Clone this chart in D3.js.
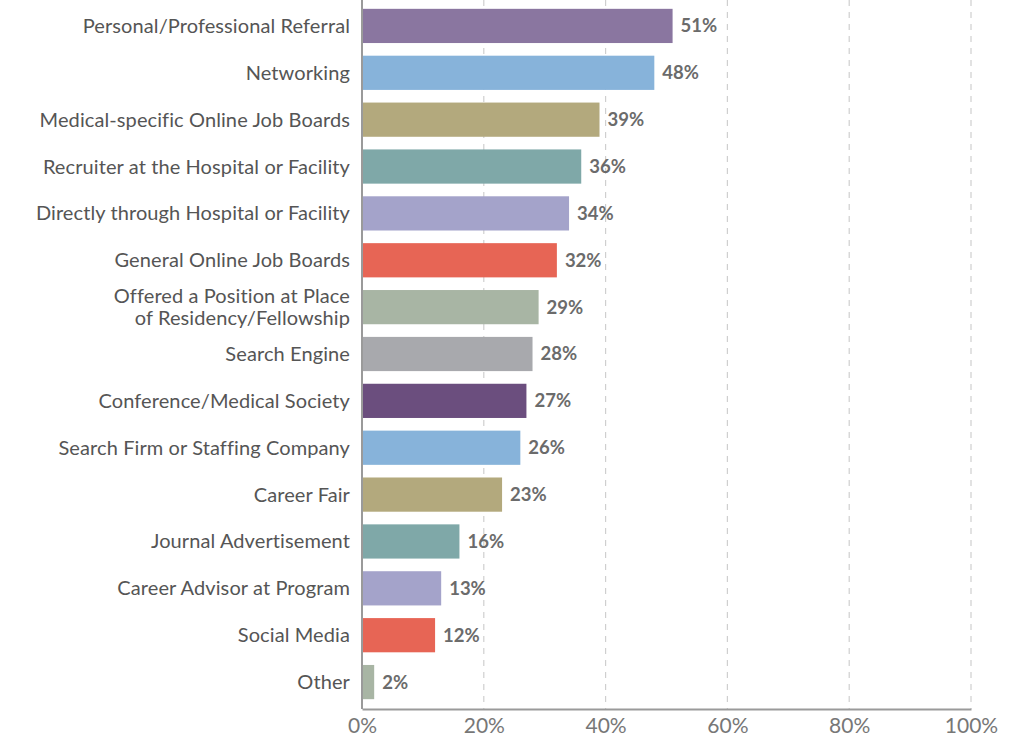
<!DOCTYPE html>
<html><head><meta charset="utf-8">
<script src="https://cdn.jsdelivr.net/npm/d3@7"></script>
<style>body{margin:0;background:#fff}svg{display:block}</style>
</head><body><svg id="c" width="1024" height="744"></svg>
<script>
const categories = [
  ["Personal/Professional Referral"],
  ["Networking"],
  ["Medical-specific Online Job Boards"],
  ["Recruiter at the Hospital or Facility"],
  ["Directly through Hospital or Facility"],
  ["General Online Job Boards"],
  ["Offered a Position at Place", "of Residency/Fellowship"],
  ["Search Engine"],
  ["Conference/Medical Society"],
  ["Search Firm or Staffing Company"],
  ["Career Fair"],
  ["Journal Advertisement"],
  ["Career Advisor at Program"],
  ["Social Media"],
  ["Other"]
];
const values = [51, 48, 39, 36, 34, 32, 29, 28, 27, 26, 23, 16, 13, 12, 2];
const colors = ["#8a76a0","#87b3da","#b3a97d","#7fa8a8","#a4a3ca","#e76555","#a8b5a4","#a8a9ad","#6b4e7e","#87b3da","#b3a97d","#7fa8a8","#a4a3ca","#e76555","#a8b5a4"];
const xTicks = [0, 20, 40, 60, 80, 100];

const svg = d3.select("#c");
const font = "Lato, 'Open Sans', sans-serif";
const x = d3.scaleLinear().domain([0, 100]).range([362, 971]);
const idx = d3.range(values.length);
const y = d3.scaleBand().domain(idx).range([2.5, 705.5]).paddingInner(0.27).paddingOuter(0.135);
const axisY = 709;

// grid
svg.append("g").selectAll("line").data(xTicks.slice(1)).join("line")
  .attr("x1", d => x(d)).attr("x2", d => x(d))
  .attr("y1", 0).attr("y2", axisY)
  .attr("stroke", "#cfcfcf").attr("stroke-width", 1.2).attr("stroke-dasharray", "6,6");

// bars
svg.append("g").selectAll("rect").data(idx).join("rect")
  .attr("x", x(0)).attr("y", i => y(i))
  .attr("width", i => x(values[i]) - x(0)).attr("height", y.bandwidth())
  .attr("fill", i => colors[i]);

// value labels
svg.append("g").selectAll("text").data(idx).join("text")
  .attr("x", i => x(values[i]) + 8).attr("y", i => y(i) + y.bandwidth() / 2)
  .attr("dy", "0.35em").attr("font-family", font).attr("font-weight", "bold")
  .attr("font-size", 18.5).attr("fill", "#6b6b6b")
  .text(i => values[i] + "%");

// category labels
const cl = svg.append("g").selectAll("text").data(idx).join("text")
  .attr("x", 350).attr("y", i => y(i) + y.bandwidth() / 2)
  .attr("text-anchor", "end").attr("font-family", font)
  .attr("font-size", 20).attr("letter-spacing", 0.1).attr("fill", "#555");
cl.each(function(i) {
  const lines = categories[i];
  const t = d3.select(this);
  lines.forEach((ln, k) => {
    t.append("tspan").attr("x", 350)
      .attr("dy", k === 0 ? ((0.35 - (lines.length - 1) * 0.55) + "em") : "1.1em")
      .text(ln);
  });
});

// axes
svg.append("line").attr("x1", x(0)).attr("x2", x(0)).attr("y1", 0).attr("y2", axisY)
  .attr("stroke", "#9a9a9a").attr("stroke-width", 2);
const xa = d3.axisBottom(x).tickValues(xTicks).tickFormat(d => d + "%").tickSize(0).tickPadding(9);
const g = svg.append("g").attr("transform", `translate(0,${axisY})`).call(xa);
g.select(".domain").attr("stroke", "#9a9a9a").attr("stroke-width", 2);
g.selectAll("text").attr("font-family", font).attr("font-size", 21).attr("fill", "#777");
</script></body></html>
